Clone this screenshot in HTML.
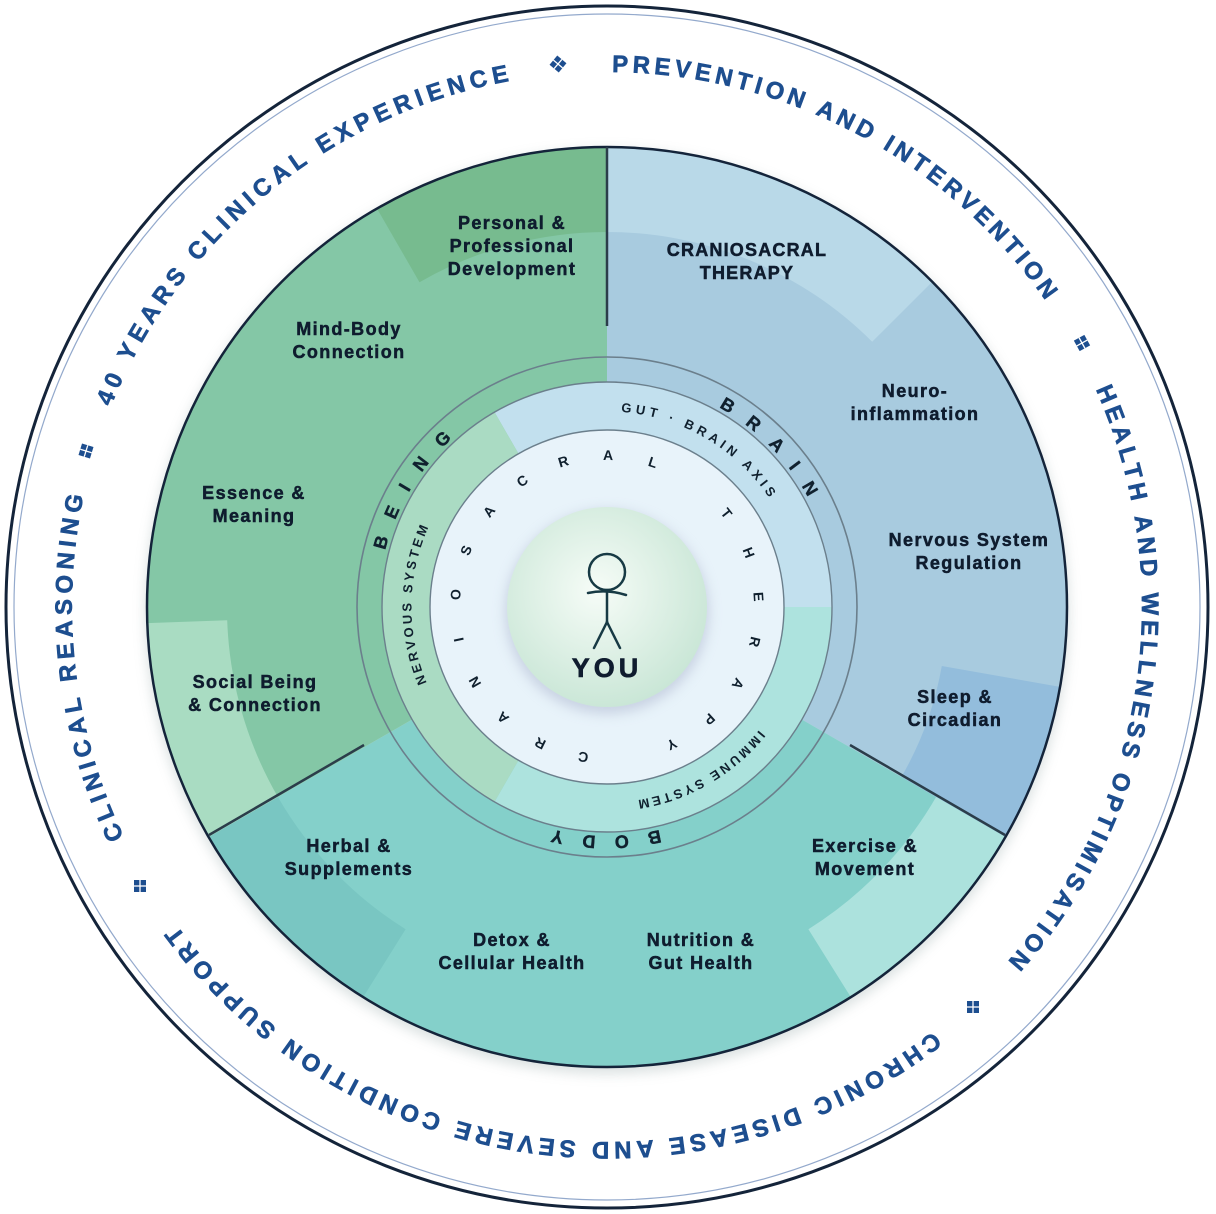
<!DOCTYPE html>
<html><head><meta charset="utf-8"><style>
html,body{margin:0;padding:0;background:#fff;}
svg{display:block;}
.lbl{font-family:"Liberation Sans",Arial,sans-serif;font-weight:bold;font-size:18px;letter-spacing:1.4px;fill:#0f1c2e;stroke:#0f1c2e;stroke-width:0.5px;text-anchor:middle;}
.outer{font-family:"Liberation Sans",Arial,sans-serif;font-weight:bold;font-size:24px;fill:#1d4e8f;stroke:#1d4e8f;stroke-width:0.6px;}
.ring{font-family:"Liberation Sans",Arial,sans-serif;font-weight:bold;font-size:18px;fill:#10202e;stroke:#10202e;stroke-width:0.4px;}
.sm{font-family:"Liberation Sans",Arial,sans-serif;font-weight:bold;font-size:13px;fill:#10202e;}
.cs{font-family:"Liberation Sans",Arial,sans-serif;font-weight:bold;font-size:14px;fill:#10202e;text-anchor:middle;dominant-baseline:central;}
</style></head><body>
<svg width="1216" height="1214" viewBox="0 0 1216 1214" xmlns="http://www.w3.org/2000/svg">
<defs>
<path id="po" d="M607,72 A535,535 0 1 1 607,1142 A535,535 0 1 1 607,72"/>
<path id="pr" d="M607,378 A229,229 0 1 1 607,836 A229,229 0 1 1 607,378"/>
<path id="ps" d="M607,411.5 A195.5,195.5 0 1 1 607,802.5 A195.5,195.5 0 1 1 607,411.5"/>
<radialGradient id="cg" cx="0.45" cy="0.42" r="0.6">
<stop offset="0" stop-color="#f6fcf7"/><stop offset="1" stop-color="#c9e6d6"/>
</radialGradient>
<filter id="sh" x="-20%" y="-20%" width="140%" height="140%"><feGaussianBlur stdDeviation="6"/></filter>
</defs>
<rect width="1216" height="1214" fill="#fff"/>
<circle cx="607" cy="607" r="601" fill="#fff" stroke="#14243a" stroke-width="3"/>
<circle cx="607" cy="607" r="593" fill="none" stroke="#93a9cc" stroke-width="1.2"/>

<text class="outer"><textPath href="#po" startOffset="2726" textLength="537" lengthAdjust="spacing">40 YEARS CLINICAL EXPERIENCE</textPath></text>
<text class="outer"><textPath href="#po" startOffset="5" textLength="509" lengthAdjust="spacing">PREVENTION AND INTERVENTION</textPath></text>
<text class="outer"><textPath href="#po" startOffset="616" textLength="612" lengthAdjust="spacing">HEALTH AND WELLNESS OPTIMISATION</textPath></text>
<text class="outer"><textPath href="#po" startOffset="1330" textLength="850" lengthAdjust="spacing">CHRONIC DISEASE AND SEVERE CONDITION SUPPORT</textPath></text>
<text class="outer"><textPath href="#po" startOffset="2283" textLength="350" lengthAdjust="spacing">CLINICAL REASONING</textPath></text>

<g fill="#1d4e8f" stroke="#fff" stroke-width="1.3">
<g transform="translate(558,64) rotate(40)"><rect x="-6" y="-6" width="12" height="12" stroke="none"/><line x1="-6" y1="0" x2="6" y2="0"/><line x1="0" y1="-6" x2="0" y2="6"/></g>
<g transform="translate(1082,343) rotate(61)"><rect x="-6" y="-6" width="12" height="12" stroke="none"/><line x1="-6" y1="0" x2="6" y2="0"/><line x1="0" y1="-6" x2="0" y2="6"/></g>
<g transform="translate(973,1007) rotate(0)"><rect x="-6" y="-6" width="12" height="12" stroke="none"/><line x1="-6" y1="0" x2="6" y2="0"/><line x1="0" y1="-6" x2="0" y2="6"/></g>
<g transform="translate(140,886) rotate(0)"><rect x="-6" y="-6" width="12" height="12" stroke="none"/><line x1="-6" y1="0" x2="6" y2="0"/><line x1="0" y1="-6" x2="0" y2="6"/></g>
<g transform="translate(86,451) rotate(17)"><rect x="-6" y="-6" width="12" height="12" stroke="none"/><line x1="-6" y1="0" x2="6" y2="0"/><line x1="0" y1="-6" x2="0" y2="6"/></g>
</g>

<circle cx="607" cy="612" r="462" fill="#9aa" opacity="0.35" filter="url(#sh)"/>
<path d="M607,607 L607,147 A460,460 0 0 1 1005.4,837 Z" fill="#a8cbdf"/>
<path d="M607,607 L1005.4,837 A460,460 0 0 1 208.6,837 Z" fill="#84d0ca"/>
<path d="M607,607 L208.6,837 A460,460 0 0 1 607,147 Z" fill="#84c7a6"/>
<path d="M607,147 A460,460 0 0 1 932.3,281.7 L872.2,341.8 A375,375 0 0 0 607,232 Z" fill="#b9d9e8"/>
<path d="M1060,686.9 A460,460 0 0 1 1005.4,837 L901.4,777 A340,340 0 0 0 941.8,666 Z" fill="#93bddc"/>
<path d="M1005.4,837 A460,460 0 0 1 850.8,997.1 L808.4,929.2 A380,380 0 0 0 936.1,797 Z" fill="#ace2dd"/>
<path d="M363.2,997.1 A460,460 0 0 1 208.6,837 L277.9,797 A380,380 0 0 0 405.6,929.2 Z" fill="#79c6c2"/>
<path d="M208.6,837 A460,460 0 0 1 147.3,623.1 L227.2,620.3 A380,380 0 0 0 277.9,797 Z" fill="#a9dcc2"/>
<path d="M377,208.6 A460,460 0 0 1 607,147 L607,232 A375,375 0 0 0 419.5,282.2 Z" fill="#77bb8f"/>
<circle cx="607" cy="607" r="460" fill="none" stroke="#14243a" stroke-width="2.5"/>

<line x1="607" y1="147" x2="607" y2="326" stroke="#2b3d4a" stroke-width="2.5"/>
<line x1="850" y1="745" x2="1005" y2="835" stroke="#2b3d4a" stroke-width="2.5"/>
<line x1="364" y1="745" x2="209" y2="835" stroke="#2b3d4a" stroke-width="2.5"/>

<circle cx="607" cy="607" r="250" fill="none" stroke="#6b7f8c" stroke-width="1.6"/>
<path d="M607,607 L494.5,412.1 A225,225 0 0 1 832,607 Z" fill="#c2e0ee"/>
<path d="M607,607 L832,607 A225,225 0 0 1 494.5,801.9 Z" fill="#ade3de"/>
<path d="M607,607 L494.5,801.9 A225,225 0 0 1 494.5,412.1 Z" fill="#aadbc3"/>
<circle cx="607" cy="607" r="225" fill="none" stroke="#6b7f8c" stroke-width="1.4"/>
<circle cx="607" cy="607" r="177" fill="#e8f3fa" stroke="#6b7f8c" stroke-width="1.4"/>

<text class="ring"><textPath href="#pr" startOffset="1136" textLength="132" lengthAdjust="spacing">BEING</textPath></text>
<text class="ring"><textPath href="#pr" startOffset="117" textLength="128" lengthAdjust="spacing">BRAIN</textPath></text>
<text class="ring"><textPath href="#pr" startOffset="666" textLength="108" lengthAdjust="spacing">BODY</textPath></text>
<text class="sm"><textPath href="#ps" startOffset="14" textLength="177" lengthAdjust="spacing">GUT · BRAIN AXIS</textPath></text>
<text class="sm"><textPath href="#ps" startOffset="843" textLength="160" lengthAdjust="spacing">NERVOUS SYSTEM</textPath></text>
<text class="sm"><textPath href="#ps" startOffset="440" textLength="143" lengthAdjust="spacing">IMMUNE SYSTEM</textPath></text>

<g>
<text class="cs" transform="translate(607,607) rotate(189) translate(0,-152)">C</text>
<text class="cs" transform="translate(607,607) rotate(206.1) translate(0,-152)">R</text>
<text class="cs" transform="translate(607,607) rotate(223.3) translate(0,-152)">A</text>
<text class="cs" transform="translate(607,607) rotate(240.4) translate(0,-152)">N</text>
<text class="cs" transform="translate(607,607) rotate(257.6) translate(0,-152)">I</text>
<text class="cs" transform="translate(607,607) rotate(274.7) translate(0,-152)">O</text>
<text class="cs" transform="translate(607,607) rotate(291.9) translate(0,-152)">S</text>
<text class="cs" transform="translate(607,607) rotate(309) translate(0,-152)">A</text>
<text class="cs" transform="translate(607,607) rotate(326.1) translate(0,-152)">C</text>
<text class="cs" transform="translate(607,607) rotate(343.3) translate(0,-152)">R</text>
<text class="cs" transform="translate(607,607) rotate(0.4) translate(0,-152)">A</text>
<text class="cs" transform="translate(607,607) rotate(17.6) translate(0,-152)">L</text>
<text class="cs" transform="translate(607,607) rotate(51.9) translate(0,-152)">T</text>
<text class="cs" transform="translate(607,607) rotate(69) translate(0,-152)">H</text>
<text class="cs" transform="translate(607,607) rotate(86.1) translate(0,-152)">E</text>
<text class="cs" transform="translate(607,607) rotate(103.3) translate(0,-152)">R</text>
<text class="cs" transform="translate(607,607) rotate(120.4) translate(0,-152)">A</text>
<text class="cs" transform="translate(607,607) rotate(137.6) translate(0,-152)">P</text>
<text class="cs" transform="translate(607,607) rotate(154.7) translate(0,-152)">Y</text>
</g>

<circle cx="607" cy="612" r="102" fill="#aab3cc" opacity="0.5" filter="url(#sh)"/>
<circle cx="607" cy="607" r="100" fill="url(#cg)"/>
<g stroke="#173a44" stroke-width="2.5" fill="none" stroke-linecap="round">
<circle cx="607" cy="572" r="18"/>
<path d="M588,593 Q607,589 626,595"/>
<line x1="607" y1="590" x2="607" y2="622"/>
<line x1="607" y1="622" x2="594" y2="648"/>
<line x1="607" y1="622" x2="620" y2="648"/>
</g>
<text x="607" y="677" font-family="Liberation Sans, Arial, sans-serif" font-weight="bold" font-size="27" letter-spacing="4" fill="#0f1c2e" stroke="#0f1c2e" stroke-width="0.6" text-anchor="middle">YOU</text>

<text class="lbl"><tspan x="512" y="229">Personal &amp;</tspan><tspan x="512" y="252">Professional</tspan><tspan x="512" y="275">Development</tspan></text>
<text class="lbl"><tspan x="349" y="335">Mind-Body</tspan><tspan x="349" y="358">Connection</tspan></text>
<text class="lbl"><tspan x="254" y="499">Essence &amp;</tspan><tspan x="254" y="522">Meaning</tspan></text>
<text class="lbl"><tspan x="255" y="688">Social Being</tspan><tspan x="255" y="711">&amp; Connection</tspan></text>
<text class="lbl" style="letter-spacing:1.2px"><tspan x="747" y="256">CRANIOSACRAL</tspan><tspan x="747" y="279">THERAPY</tspan></text>
<text class="lbl"><tspan x="915" y="397">Neuro-</tspan><tspan x="915" y="420">inflammation</tspan></text>
<text class="lbl"><tspan x="969" y="546">Nervous System</tspan><tspan x="969" y="569">Regulation</tspan></text>
<text class="lbl"><tspan x="955" y="703">Sleep &amp;</tspan><tspan x="955" y="726">Circadian</tspan></text>
<text class="lbl"><tspan x="865" y="852">Exercise &amp;</tspan><tspan x="865" y="875">Movement</tspan></text>
<text class="lbl"><tspan x="701" y="946">Nutrition &amp;</tspan><tspan x="701" y="969">Gut Health</tspan></text>
<text class="lbl"><tspan x="512" y="946">Detox &amp;</tspan><tspan x="512" y="969">Cellular Health</tspan></text>
<text class="lbl"><tspan x="349" y="852">Herbal &amp;</tspan><tspan x="349" y="875">Supplements</tspan></text>
</svg>
</body></html>
